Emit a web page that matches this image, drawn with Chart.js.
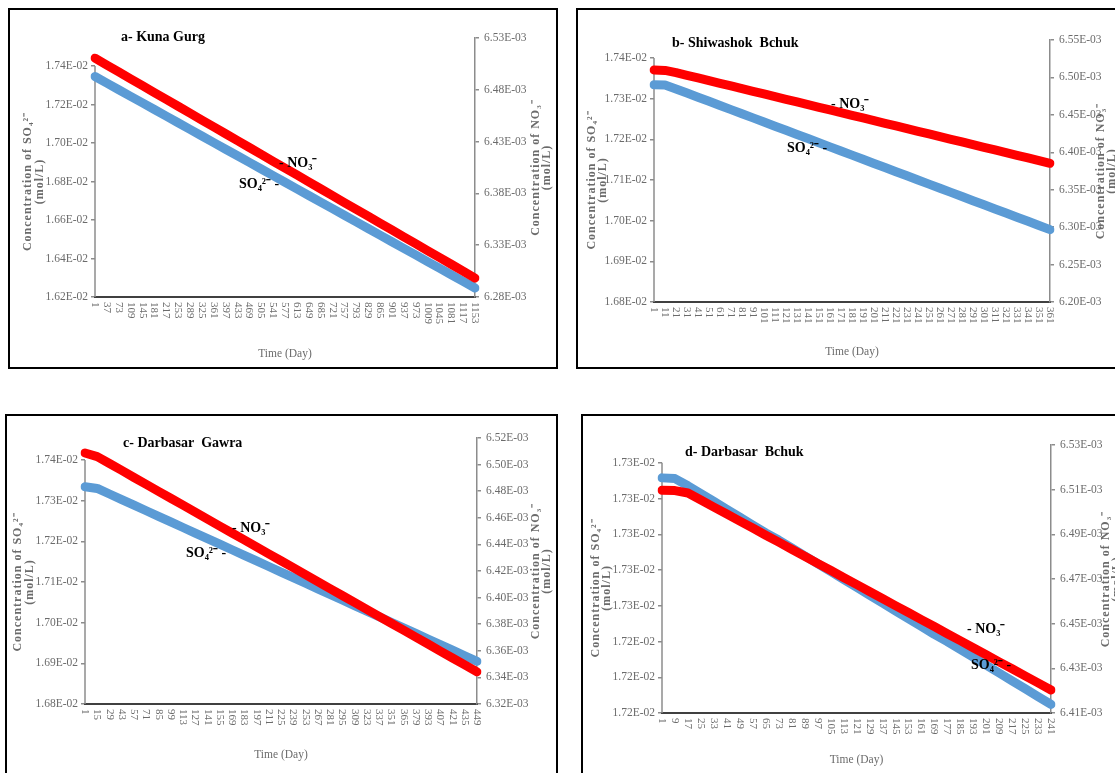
<!DOCTYPE html>
<html>
<head>
<meta charset="utf-8">
<script src="https://cdn.jsdelivr.net/npm/chart.js@4.4.1/dist/chart.umd.min.js"></script>
<style>
  html, body { margin: 0; padding: 0; background: #fff; overflow: hidden; }
  body { width: 1115px; height: 773px; position: relative; }
  .panel { position: absolute; border: 2px solid #000; box-sizing: border-box; background: #fff; overflow: hidden; }
  .panel canvas { position: absolute; left: 0; top: 0; }
</style>
</head>
<body>
<div class="panel" style="left:8px;top:8px;width:550px;height:361px"><canvas id="chartA" width="546" height="357"></canvas></div>
<div class="panel" style="left:576px;top:8px;width:560px;height:361px"><canvas id="chartB" width="556" height="357"></canvas></div>
<div class="panel" style="left:5px;top:414px;width:553px;height:380px"><canvas id="chartC" width="549" height="376"></canvas></div>
<div class="panel" style="left:581px;top:414px;width:560px;height:380px"><canvas id="chartD" width="556" height="376"></canvas></div>
<script>
  // SO4 values are in 1E-02 mol/L, NO3 values in 1E-03 mol/L

  // a- Kuna Gurg
  const aDays = ['1','37','73','109','145','181','217','253','289','325','361','397','433','469','505','541','577',
    '613','649','685','721','757','793','829','865','901','937','973','1009','1045','1081','1117','1153'];
  const aNO3 = [6.5105,6.5039,6.4972,6.4906,6.4840,6.4773,6.4707,6.4641,6.4575,6.4508,6.4442,6.4376,6.4309,6.4243,6.4177,6.4110,6.4044,
    6.3978,6.3911,6.3845,6.3779,6.3712,6.3646,6.3580,6.3514,6.3447,6.3381,6.3315,6.3248,6.3182,6.3116,6.3049,6.2983];
  const aSO4 = [1.73455,1.73112,1.72768,1.72425,1.72082,1.71738,1.71395,1.71052,1.70708,1.70365,1.70022,1.69678,1.69335,1.68992,1.68648,1.68305,1.67962,
    1.67618,1.67275,1.66932,1.66588,1.66245,1.65902,1.65558,1.65215,1.64871,1.64528,1.64185,1.63841,1.63498,1.63155,1.62811,1.62468];
  const aSO4Ticks = [1.62,1.64,1.66,1.68,1.70,1.72,1.74];
  const aNO3Ticks = [6.28,6.33,6.38,6.43,6.48,6.53];

  // b- Shiwashok Bchuk
  const bDays = ['1','11','21','31','41','51','61','71','81','91','101','111','121','131','141','151','161','171','181',
    '191','201','211','221','231','241','251','261','271','281','291','301','311','321','331','341','351','361'];
  const bNO3 = [6.5100,6.5094,6.5064,6.5028,6.4993,6.4957,6.4922,6.4886,6.4850,6.4815,6.4779,6.4743,6.4708,6.4672,6.4637,6.4601,6.4565,6.4530,6.4494,
    6.4459,6.4423,6.4387,6.4352,6.4316,6.4280,6.4245,6.4209,6.4174,6.4138,6.4102,6.4067,6.4031,6.3996,6.3960,6.3924,6.3889,6.3853];
  const bSO4 = [1.73340,1.73335,1.73240,1.73138,1.73036,1.72935,1.72833,1.72731,1.72629,1.72528,1.72426,1.72324,1.72222,1.72121,1.72019,1.71917,1.71815,1.71714,1.71612,
    1.71510,1.71408,1.71306,1.71205,1.71103,1.71001,1.70899,1.70798,1.70696,1.70594,1.70492,1.70391,1.70289,1.70187,1.70085,1.69984,1.69882,1.69780];
  const bSO4Ticks = [1.68,1.69,1.70,1.71,1.72,1.73,1.74];
  const bNO3Ticks = [6.20,6.25,6.30,6.35,6.40,6.45,6.50,6.55];

  // c- Darbasar Gawra
  const cDays = ['1','15','29','43','57','71','85','99','113','127','141','155','169','183','197','211','225',
    '239','253','267','281','295','309','323','337','351','365','379','393','407','421','435','449'];
  const cNO3 = [6.5087,6.5060,6.5008,6.4956,6.4903,6.4851,6.4799,6.4747,6.4695,6.4642,6.4590,6.4538,6.4486,6.4434,6.4381,6.4329,6.4277,
    6.4225,6.4173,6.4120,6.4068,6.4016,6.3964,6.3912,6.3859,6.3807,6.3755,6.3703,6.3651,6.3598,6.3546,6.3494,6.3442];
  const cSO4 = [1.73340,1.73300,1.73163,1.73026,1.72889,1.72752,1.72615,1.72477,1.72340,1.72203,1.72066,1.71929,1.71792,1.71655,1.71518,1.71381,1.71244,
    1.71106,1.70969,1.70832,1.70695,1.70558,1.70421,1.70284,1.70147,1.70010,1.69873,1.69735,1.69598,1.69461,1.69324,1.69187,1.69050];
  const cSO4Ticks = [1.68,1.69,1.70,1.71,1.72,1.73,1.74];
  const cNO3Ticks = [6.32,6.34,6.36,6.38,6.40,6.42,6.44,6.46,6.48,6.50,6.52];

  // d- Darbasar Bchuk
  const dDays = ['1','9','17','25','33','41','49','57','65','73','81','89','97','105','113','121',
    '129','137','145','153','161','169','177','185','193','201','209','217','225','233','241'];
  const dNO3 = [6.5097,6.5096,6.5085,6.5054,6.5022,6.4991,6.4959,6.4928,6.4896,6.4865,6.4833,6.4802,6.4770,6.4739,6.4707,6.4676,
    6.4644,6.4613,6.4581,6.4550,6.4518,6.4487,6.4455,6.4424,6.4392,6.4361,6.4329,6.4298,6.4266,6.4235,6.4203];
  const dSO4 = [1.72679,1.72678,1.72668,1.72657,1.72646,1.72635,1.72624,1.72613,1.72602,1.72592,1.72581,1.72570,1.72559,1.72548,1.72537,1.72526,
    1.72515,1.72504,1.72493,1.72482,1.72471,1.72460,1.72450,1.72439,1.72428,1.72417,1.72406,1.72395,1.72384,1.72373,1.72362];
  const dSO4Ticks = [1.7235,1.7240,1.7245,1.7250,1.7255,1.7260,1.7265,1.7270];
  const dSO4TickLabels = ['1.72E-02','1.72E-02','1.72E-02','1.73E-02','1.73E-02','1.73E-02','1.73E-02','1.73E-02'];
  const dNO3Ticks = [6.41,6.43,6.45,6.47,6.49,6.51,6.53];

  const RED = '#ff0000';
  const BLUE = '#5b9bd5';
  const AXIS_GRAY = '#8c8c8c';
  const TEXT_GRAY = '#6b6b6b';
  const SERIF = '"Liberation Serif", "Times New Roman", serif';

  function makeChart(id, p) {
    const decor = {
      id: 'decor',
      beforeDatasetsDraw(chart) {
        // left axis line only runs up to its top tick, like in excel
        const {ctx, chartArea: a, scales: {y}} = chart;
        ctx.save();
        ctx.strokeStyle = AXIS_GRAY;
        ctx.lineWidth = 1.5;
        ctx.beginPath();
        ctx.moveTo(a.left, y.getPixelForValue(p.so4Ticks[0]));
        ctx.lineTo(a.left, y.getPixelForValue(p.so4Ticks[p.so4Ticks.length - 1]));
        ctx.stroke();
        ctx.restore();
      },
      afterDraw(chart) {
        const {ctx, chartArea: a, scales: {x, y}} = chart;
        ctx.save();

        // day labels turned clockwise
        ctx.fillStyle = TEXT_GRAY;
        ctx.font = '11px ' + SERIF;
        ctx.textAlign = 'left';
        ctx.textBaseline = 'middle';
        p.days.forEach((d, i) => {
          ctx.save();
          ctx.translate(x.getPixelForValue(i), a.bottom + 5);
          ctx.rotate(Math.PI / 2);
          ctx.fillText(d, 0, 0);
          ctx.restore();
        });

        // axis titles, both read bottom to top
        const vtext = (t, px, py) => {
          ctx.save();
          ctx.translate(px, py);
          ctx.rotate(-Math.PI / 2);
          ctx.fillText(t, 0, 0);
          ctx.restore();
        };
        ctx.font = 'bold 12px ' + SERIF;
        ctx.letterSpacing = '1px';
        ctx.textAlign = 'center';
        const midL = (y.getPixelForValue(p.so4Ticks[0]) + y.getPixelForValue(p.so4Ticks[p.so4Ticks.length - 1])) / 2;
        const midR = (a.top + a.bottom) / 2;
        vtext('Concentration of SO₄²⁻', a.left + p.leftTitle[0], midL);
        vtext('(mol/L)', a.left + p.leftTitle[1], midL);
        vtext('Concentration of NO₃⁻', a.right + p.rightTitle[0], midR);
        vtext('(mol/L)', a.right + p.rightTitle[1], midR);
        ctx.letterSpacing = '0px';

        // panel title and series names
        ctx.fillStyle = '#000';
        ctx.textAlign = 'left';
        ctx.font = 'bold 14px ' + SERIF;
        ctx.fillText(p.title, p.titleAt[0], p.titleAt[1]);
        ctx.fillText('- NO₃⁻', a.left + p.no3At[0], a.top + p.no3At[1]);
        ctx.fillText('SO₄²⁻ -', a.left + p.so4At[0], a.top + p.so4At[1]);
        ctx.restore();
      }
    };

    const tickFont = {family: SERIF, size: 11.5};
    const lineStyle = {borderWidth: 9, borderCapStyle: 'round', borderJoinStyle: 'round', pointRadius: 0, tension: 0, fill: false};

    return new Chart(document.getElementById(id), {
      type: 'line',
      data: {
        labels: p.days,
        datasets: [
          {label: 'NO3', data: p.no3, yAxisID: 'y1', borderColor: RED, backgroundColor: RED, ...lineStyle},
          {label: 'SO4', data: p.so4, yAxisID: 'y', borderColor: BLUE, backgroundColor: BLUE, ...lineStyle}
        ]
      },
      options: {
        responsive: false,
        animation: false,
        layout: {padding: {top: p.box[2], left: 0, right: 0, bottom: 0}},
        plugins: {
          legend: {display: false},
          tooltip: {enabled: false}
        },
        scales: {
          x: {
            ticks: {display: false},
            grid: {display: false},
            border: {display: true, color: '#404040', width: 2},
            title: {
              display: true,
              text: 'Time (Day)',
              color: TEXT_GRAY,
              font: {family: SERIF, size: 11.5},
              padding: {top: 0, bottom: p.timePad}
            },
            afterFit: s => { s.height = p.box[3]; }
          },
          y: {
            position: 'left',
            bounds: 'data',
            min: p.so4Ticks[0],
            max: p.so4Max,
            afterBuildTicks: s => { s.ticks = p.so4Ticks.map(v => ({value: v})); },
            ticks: {
              color: TEXT_GRAY,
              font: tickFont,
              padding: 3,
              callback: (v, i) => p.so4Labels ? p.so4Labels[i] : v.toFixed(2) + 'E-02'
            },
            grid: {drawOnChartArea: false, tickLength: 4, color: AXIS_GRAY, lineWidth: 1.5},
            border: {display: false},
            afterFit: s => { s.width = p.box[0]; }
          },
          y1: {
            position: 'right',
            bounds: 'data',
            min: p.no3Ticks[0],
            max: p.no3Ticks[p.no3Ticks.length - 1],
            afterBuildTicks: s => { s.ticks = p.no3Ticks.map(v => ({value: v})); },
            ticks: {
              color: TEXT_GRAY,
              font: tickFont,
              padding: 5,
              callback: v => v.toFixed(2) + 'E-03'
            },
            grid: {drawOnChartArea: false, tickLength: 4, color: AXIS_GRAY, lineWidth: 1.5},
            border: {display: true, color: AXIS_GRAY, width: 1.5},
            afterFit: s => { s.width = p.box[1]; }
          }
        }
      },
      plugins: [decor]
    });
  }

  // box = [left axis width, right axis width, top padding, x axis height]
  makeChart('chartA', {
    days: aDays, no3: aNO3, so4: aSO4, so4Ticks: aSO4Ticks, no3Ticks: aNO3Ticks, so4Max: 1.75455,
    box: [85, 81, 28, 70], timePad: 6,
    title: 'a- Kuna Gurg', titleAt: [111, 27],
    leftTitle: [-67, -55], rightTitle: [61, 72],
    no3At: [184, 125], so4At: [144, 146]
  });

  makeChart('chartB', {
    days: bDays, no3: bNO3, so4: bSO4, so4Ticks: bSO4Ticks, no3Ticks: bNO3Ticks, so4Max: 1.74443,
    box: [76, 84, 30, 65], timePad: 8,
    title: 'b- Shiwashok  Bchuk', titleAt: [94, 33],
    leftTitle: [-62, -51], rightTitle: [51, 62],
    no3At: [177, 64], so4At: [133, 108]
  });

  makeChart('chartC', {
    days: cDays, no3: cNO3, so4: cSO4, so4Ticks: cSO4Ticks, no3Ticks: cNO3Ticks, so4Max: 1.74540,
    box: [78, 79, 22, 88], timePad: 30,
    title: 'c- Darbasar  Gawra', titleAt: [116, 27],
    leftTitle: [-67, -55], rightTitle: [59, 70],
    no3At: [147, 90], so4At: [101, 115]
  });

  makeChart('chartD', {
    days: dDays, no3: dNO3, so4: dSO4, so4Ticks: dSO4Ticks, so4Labels: dSO4TickLabels, no3Ticks: dNO3Ticks, so4Max: 1.727250,
    box: [79, 88, 29, 79], timePad: 25,
    title: 'd- Darbasar  Bchuk', titleAt: [102, 36],
    leftTitle: [-66, -55], rightTitle: [55, 66],
    no3At: [305, 184], so4At: [309, 220]
  });
</script>
</body>
</html>
